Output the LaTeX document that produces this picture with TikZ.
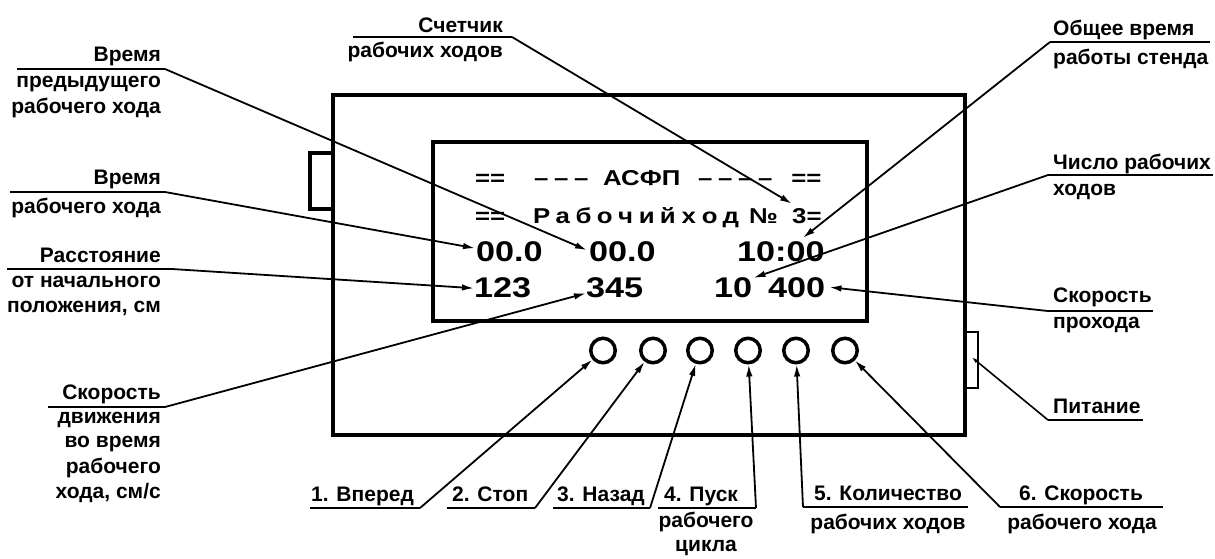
\documentclass[tikz,border=0pt]{standalone}
\usepackage{fontspec}
\setmainfont{Liberation Sans}
\newfontfamily\scrfont{Liberation Sans}[FakeStretch=1.2]
\usetikzlibrary{arrows.meta,calc}
\newcommand\scell[2]{\makebox[#1][c]{#2}}
\begin{document}
\begin{tikzpicture}[x=1pt,y=-1pt,
  lbl/.style={font=\fontsize{21pt}{25pt}\selectfont\bfseries, inner sep=0pt},
  scrA/.style={font=\scrfont\bfseries\fontsize{21.5pt}{25pt}\selectfont, inner sep=0pt},
  scrB/.style={font=\scrfont\bfseries\fontsize{28.5pt}{32pt}\selectfont, inner sep=0pt},
  boxline/.style={draw, line width=3.5pt, inner sep=0pt},
  ul/.style={line width=1.8pt},
  leader/.style={line width=1.8pt, -{Latex[length=12pt,width=6.5pt]}},
  smallleader/.style={line width=1.6pt, -{Latex[length=7pt,width=4pt]}},
  btn/.style={circle, draw, line width=3.5pt, minimum size=24.5pt, inner sep=0pt}]
\useasboundingbox (0,0) rectangle (1215,558);

% device body, screen, side tabs
\node[boxline, minimum width=632pt, minimum height=340pt] (dev) at (649,265) {};
\node[boxline, minimum width=434pt, minimum height=179pt] (scr) at (650,231.5) {};
\node[boxline, minimum width=23pt, minimum height=56pt] (ltab) at (321.5,181) {};
\node[draw, line width=2.6pt, inner sep=0pt, minimum width=13pt, minimum height=56pt] (ptab) at (971.5,360) {};

% screen text
\node[scrA, anchor=base west] (s1) at (475,185) {\scell{15pt}{=}\scell{15pt}{=}\hspace{26pt}\scell{20pt}{–}\scell{20pt}{–}\scell{20pt}{–}\hspace{12pt}АСФП\hspace{15pt}\scell{20pt}{–}\scell{20pt}{–}\scell{20pt}{–}\scell{20pt}{–}\hspace{16pt}\scell{15pt}{=}\scell{15pt}{=}};
\node[scrA, anchor=base west] (s2) at (475,223) {\scell{15pt}{=}\scell{15pt}{=}\hspace{26pt}\scell{21pt}{Р}\scell{21pt}{а}\scell{21pt}{б}\scell{21pt}{о}\scell{21pt}{ч}\scell{21pt}{и}\scell{21pt}{й}\scell{21pt}{х}\scell{21pt}{о}\scell{21pt}{д}\hspace{8pt}№};
\node[scrA, anchor=base west] (n3) at (792,223) {3=};
\node[scrB, anchor=base west] (v1) at (476,261) {00.0};
\node[scrB, anchor=base west] (v2) at (589,261) {00.0};
\node[scrB, anchor=base west] (t1) at (737,261) {10:00};
\node[scrB, anchor=base west] (a1) at (474,297) {123};
\node[scrB, anchor=base west] (a2) at (586,297) {345};
\node[scrB, anchor=base west] (a3) at (714,297) {10};
\node[scrB, anchor=base west] (a4) at (768,297) {400};

% buttons
\node[btn] (b1) at (603,350.5) {};
\node[btn] (b2) at (653,350.5) {};
\node[btn] (b3) at (700,350.5) {};
\node[btn] (b4) at (748,350.5) {};
\node[btn] (b5) at (796,350.5) {};
\node[btn] (b6) at (845,350.5) {};

% left labels
\node[lbl, anchor=base east] (l1a) at (161,61) {Время};
\node[lbl, anchor=base east] (l1b) at (161,87) {предыдущего};
\node[lbl, anchor=base east] (l1c) at (161,113) {рабочего хода};
\coordinate (u1s) at (17,69); \coordinate (u1e) at (165,69);
\draw[ul] (u1s) -- (u1e);
\draw[leader] (u1e) -- ($(v2.west)+(-2,-1)$);

\node[lbl, anchor=base east] (l2a) at (161,184) {Время};
\node[lbl, anchor=base east] (l2b) at (161,213) {рабочего хода};
\coordinate (u2s) at (10,192); \coordinate (u2e) at (165,192);
\draw[ul] (u2s) -- (u2e);
\draw[leader] (u2e) -- ($(v1.west)+(-1,-3)$);

\node[lbl, anchor=base east] (l3a) at (161,262) {Расстояние};
\node[lbl, anchor=base east] (l3b) at (161,287) {от начального};
\node[lbl, anchor=base east] (l3c) at (161,312) {положения, см};
\coordinate (u3s) at (7,269); \coordinate (u3e) at (172,269);
\draw[ul] (u3s) -- (u3e);
\draw[leader] (u3e) -- ($(a1.west)+(0,1)$);

\node[lbl, anchor=base east] (l4a) at (161,399) {Скорость};
\node[lbl, anchor=base east] (l4b) at (161,423) {движения};
\node[lbl, anchor=base east] (l4c) at (161,447) {во время};
\node[lbl, anchor=base east] (l4d) at (161,473) {рабочего};
\node[lbl, anchor=base east] (l4e) at (161,498) {хода, см/с};
\coordinate (u4s) at (48,407); \coordinate (u4e) at (165,407);
\draw[ul] (u4s) -- (u4e);
\draw[leader] (u4e) -- ($(a2.west)+(0,6)$);

% top middle label
\node[lbl, anchor=base east] (c1) at (503,32) {Счетчик};
\node[lbl, anchor=base east] (c2) at (503,57) {рабочих ходов};
\coordinate (ucs) at (353,37); \coordinate (uce) at (512,37);
\draw[ul] (ucs) -- (uce);
\draw[leader] (uce) -- ($(n3.north west)+(0,-4)$);

% right labels
\node[lbl, anchor=base west] (r1a) at (1053,35) {Общее время};
\node[lbl, anchor=base west] (r1b) at (1053,64) {работы стенда};
\coordinate (ur1s) at (1210,42); \coordinate (ur1e) at (1050,42);
\draw[ul] (ur1s) -- (ur1e);
\draw[leader] (ur1e) -- ($(t1.north east)+(-22,-3)$);

\node[lbl, anchor=base west] (r2a) at (1053,169) {Число рабочих};
\node[lbl, anchor=base west] (r2b) at (1053,195) {ходов};
\coordinate (ur2s) at (1213,175); \coordinate (ur2e) at (1048,175);
\draw[ul] (ur2s) -- (ur2e);
\draw[leader] (ur2e) -- ($(a3.north east)+(1,1)$);

\node[lbl, anchor=base west] (r3a) at (1053,302) {Скорость};
\node[lbl, anchor=base west] (r3b) at (1053,328) {прохода};
\coordinate (ur3s) at (1153,311); \coordinate (ur3e) at (1048,311);
\draw[ul] (ur3s) -- (ur3e);
\draw[leader] (ur3e) -- ($(a4.east)+(4,0)$);

\node[lbl, anchor=base west] (r4a) at (1053,413) {Питание};
\coordinate (ur4s) at (1143,420); \coordinate (ur4e) at (1048,420);
\draw[ul] (ur4s) -- (ur4e);
\draw[smallleader] (ur4e) -- ($(ptab.center)+(0,-3)$);

% bottom labels
\node[lbl, anchor=base west] (k1) at (311,501) {1. Вперед};
\coordinate (k1s) at (310,508); \coordinate (k1e) at (420,508);
\draw[ul] (k1s) -- (k1e);
\draw[leader] (k1e) -- (b1);

\node[lbl, anchor=base west] (k2) at (452,501) {2. Стоп};
\coordinate (k2s) at (447,508); \coordinate (k2e) at (535,508);
\draw[ul] (k2s) -- (k2e);
\draw[leader] (k2e) -- (b2);

\node[lbl, anchor=base west] (k3) at (557,501) {3. Назад};
\coordinate (k3s) at (553,508); \coordinate (k3e) at (650,508);
\draw[ul] (k3s) -- (k3e);
\draw[leader] (k3e) -- (b3);

\node[lbl, anchor=base west] (k4a) at (664,501) {4. Пуск};
\node[lbl, anchor=base] (k4b) at (706,527) {рабочего};
\node[lbl, anchor=base] (k4c) at (706,551) {цикла};
\coordinate (k4s) at (658,508); \coordinate (k4e) at (756,508);
\draw[ul] (k4s) -- (k4e);
\draw[leader] (k4e) -- (b4);

\node[lbl, anchor=base] (k5a) at (888,500) {5. Количество};
\node[lbl, anchor=base] (k5b) at (888,529) {рабочих ходов};
\coordinate (k5s) at (968,507); \coordinate (k5e) at (803,507);
\draw[ul] (k5s) -- (k5e);
\draw[leader] (k5e) -- (b5);

\node[lbl, anchor=base] (k6a) at (1081,500) {6. Скорость};
\node[lbl, anchor=base] (k6b) at (1082,529) {рабочего хода};
\coordinate (k6s) at (1163,507); \coordinate (k6e) at (1000,507);
\draw[ul] (k6s) -- (k6e);
\draw[leader] (k6e) -- (b6);
\end{tikzpicture}
\end{document}
